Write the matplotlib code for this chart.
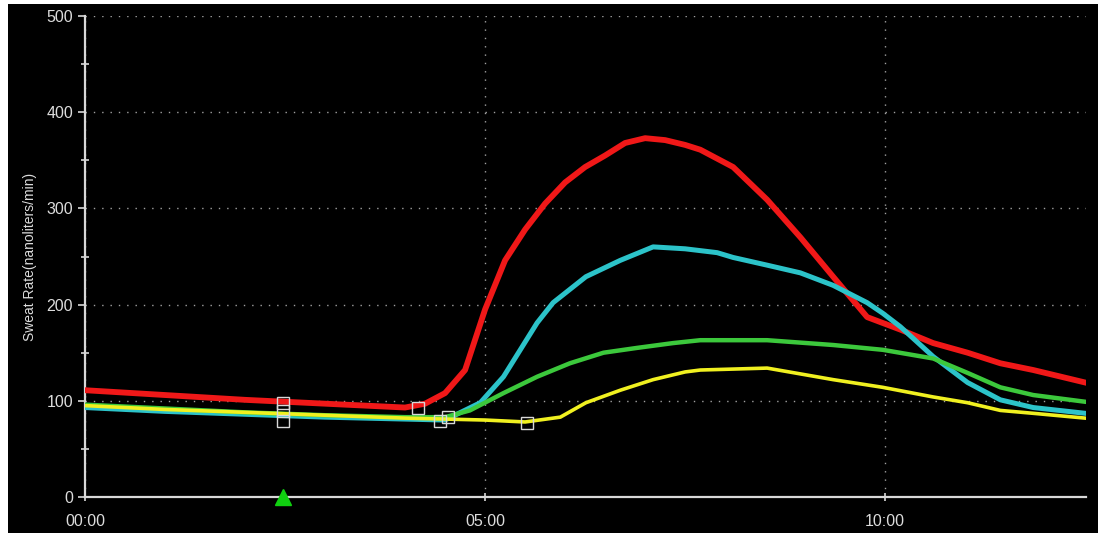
import matplotlib
matplotlib.use('Agg')
import matplotlib.pyplot as plt
from matplotlib.patches import Rectangle
from matplotlib.ticker import MultipleLocator, FixedLocator

plt.rcParams['font.family'] = ['Liberation Sans', 'DejaVu Sans']

# 数据（时间单位：分钟）
red_t = [0, 1, 2, 3, 3.5, 4.0, 4.25, 4.5, 4.75, 5.0, 5.25, 5.5, 5.75, 6.0, 6.25, 6.5, 6.75,
         7.0, 7.25, 7.5, 7.69, 8.1, 8.525, 8.94, 9.35, 9.775, 10.19, 10.6, 11.03, 11.44, 11.85, 12.5]
red_v = [111, 106, 101, 97, 95, 93, 97, 108, 132, 195, 246, 278, 305, 327, 343, 355, 368,
         373, 371, 366, 361, 343, 309, 270, 229, 187, 174, 160, 150, 139, 132, 119]

cyan_t = [0, 1, 2, 3, 4, 4.5, 4.94, 5.23, 5.44, 5.65, 5.85, 6.26, 6.69, 7.1, 7.5, 7.9,
          8.1, 8.525, 8.94, 9.35, 9.775, 9.97, 10.19, 10.6, 11.03, 11.44, 11.85, 12.5]
cyan_v = [93, 89, 86, 83, 81, 80, 98, 125, 153, 181, 202, 229, 246, 260, 258, 254,
          249, 241, 233, 220, 202, 191, 177, 146, 119, 101, 93, 87]

green_t = [0, 1, 2, 3, 4, 4.5, 4.81, 5.23, 5.65, 6.06, 6.48, 6.9, 7.35, 7.69, 8.525,
           9.35, 9.97, 10.6, 11.03, 11.44, 11.85, 12.5]
green_v = [96, 92, 88, 85, 83, 83, 90, 108, 125, 139, 150, 155, 160, 163, 163,
           158, 153, 144, 129, 114, 106, 99]

yellow_t = [0, 1, 2, 3, 4, 5, 5.5, 5.94, 6.26, 6.69, 7.1, 7.5, 7.69, 8.525, 9.35,
            9.97, 10.6, 11.03, 11.44, 11.85, 12.5]
yellow_v = [95, 91, 88, 85, 82, 80, 78, 83, 98, 111, 122, 130, 132, 134, 122,
            114, 104, 98, 90, 87, 82]

# 标记点
mark_t = [2.475, 2.475, 2.475, 4.16, 4.44, 4.54, 5.52]
mark_v = [98, 89, 79, 93, 79, 83, 77]
event_t = [2.475]

x_ticks = [0, 5, 10]
x_labels = ['00:00', '05:00', '10:00']

fig = plt.figure(figsize=(11, 5.37), dpi=100, facecolor='white')
fig.patches.append(Rectangle((8 / 1100, 4 / 537), 1090 / 1100, 529 / 537,
                             transform=fig.transFigure, facecolor='black',
                             edgecolor='none', zorder=-10))
ax = fig.add_axes([85 / 1100, 40 / 537, 1001 / 1100, 481 / 537])
ax.set_facecolor('black')

ax.plot(red_t, red_v, color='#f01818', lw=4.2, zorder=3, solid_joinstyle='round')
ax.plot(cyan_t, cyan_v, color='#2cc3c9', lw=3.6, zorder=4, solid_joinstyle='round')
ax.plot(green_t, green_v, color='#3cc83c', lw=3.2, zorder=5, solid_joinstyle='round')
ax.plot(yellow_t, yellow_v, color='#f0f020', lw=2.6, zorder=6, solid_joinstyle='round')

ax.plot(mark_t, mark_v, ls='none', marker='s', ms=8, mfc='none', mec='#d8d8d8',
        mew=1.0, zorder=7)
ax.plot(event_t, [0] * len(event_t), ls='none', marker='^', ms=11, color='#10d010',
        clip_on=False, zorder=8)

ax.set_xlim(0, 12.51)
ax.set_ylim(0, 500)
ax.xaxis.set_major_locator(FixedLocator(x_ticks))
ax.set_xticklabels(x_labels)
ax.yaxis.set_major_locator(MultipleLocator(100))
ax.yaxis.set_minor_locator(MultipleLocator(50))

ax.grid(True, which='major', color='#a0a0a0', ls=(0, (1, 5)), lw=1.0)
for s in ['top', 'right']:
    ax.spines[s].set_visible(False)
for s in ['left', 'bottom']:
    ax.spines[s].set_color('#d8d8d8')
    ax.spines[s].set_linewidth(1.6)

ax.tick_params(axis='both', which='major', colors='#d8d8d8', labelcolor='#dcdcdc',
               labelsize=11.5, length=5, width=1.2)
ax.tick_params(axis='y', which='minor', colors='#d8d8d8', direction='inout',
               length=6, width=1.2)
ax.tick_params(axis='x', which='major', direction='inout', length=6, pad=9)
ax.set_ylabel('Sweat Rate(nanoliters/min)', color='#dcdcdc', fontsize=10, labelpad=7)

fig.savefig('out.png', dpi=100, facecolor=fig.get_facecolor())
